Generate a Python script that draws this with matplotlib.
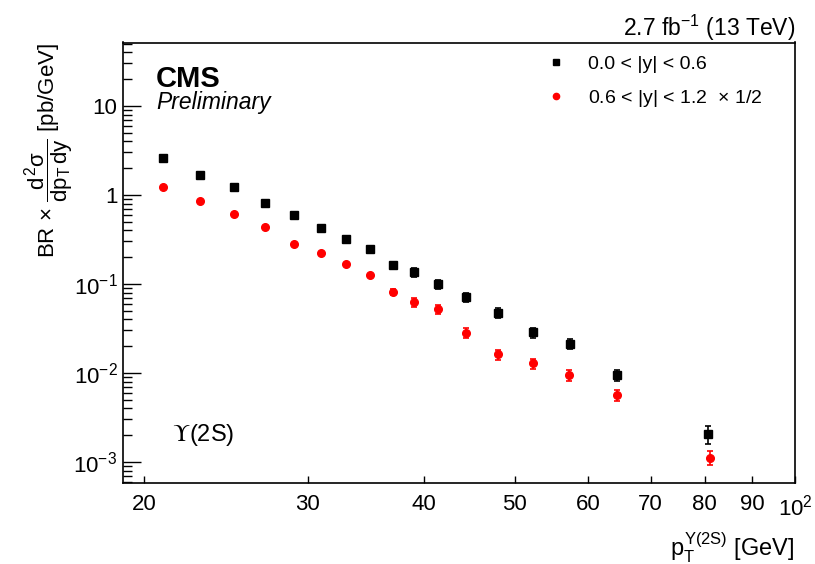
import numpy as np
import matplotlib
matplotlib.use("Agg")
import matplotlib.pyplot as plt
from matplotlib.lines import Line2D
from matplotlib.ticker import FixedLocator, LogLocator, NullFormatter

plt.rcParams['font.family'] = ['Liberation Sans', 'DejaVu Sans']
plt.rcParams['mathtext.fontset'] = 'custom'
plt.rcParams['mathtext.rm'] = 'Liberation Sans'
plt.rcParams['mathtext.it'] = 'Liberation Sans'
plt.rcParams['mathtext.bf'] = 'Liberation Sans:bold'

# Y(2S) cross section vs pT, two rapidity bins (forward bin already scaled by 1/2)
pt_mid = [21, 23, 25, 27, 29, 31, 33, 35, 37, 39, 41.4, 44.4, 48.0, 52.4, 57.4, 64.4, 80.7]
xs_mid = [2.62, 1.665, 1.23, 0.807, 0.591, 0.429, 0.323, 0.249, 0.162, 0.136,
          0.0995, 0.0707, 0.047, 0.0286, 0.0212, 0.0095, 0.00206]
err_mid = [0.08, 0.05, 0.04, 0.025, 0.02, 0.015, 0.012, 0.01, 0.015, 0.015,
           0.011, 0.0085, 0.006, 0.0037, 0.0028, 0.0014, 0.00045]

pt_fwd = [21, 23, 25, 27, 29, 31, 33, 35, 37, 39, 41.4, 44.4, 48.0, 52.4, 57.2, 64.4, 81.0]
xs_fwd = [1.23, 0.863, 0.607, 0.434, 0.284, 0.223, 0.169, 0.125, 0.0813, 0.0625,
          0.0519, 0.0281, 0.0162, 0.0128, 0.0095, 0.0056, 0.00112]
err_fwd = [0.03, 0.02, 0.015, 0.012, 0.008, 0.006, 0.005, 0.004, 0.0055, 0.0072,
           0.006, 0.0037, 0.0021, 0.0017, 0.0014, 0.0008, 0.0002]

x_ticks = [20, 30, 40, 50, 60, 70, 80, 90, 100]
x_ticklabels = ["20", "30", "40", "50", "60", "70", "80", "90", "$10^{2}$"]
y_ticks = [1e-3, 1e-2, 1e-1, 1, 10]
y_ticklabels = ["$10^{-3}$", "$10^{-2}$", "$10^{-1}$", "1", "10"]

W, H = 815, 564
fig = plt.figure(figsize=(W / 100, H / 100), dpi=100)
ax = fig.add_axes([123 / W, 1 - 483 / H, (795 - 123) / W, (483 - 42.5) / H])

ax.errorbar(pt_mid, xs_mid, yerr=err_mid, fmt='s', color='black', ms=5.5,
            elinewidth=1.2, capsize=2.2, capthick=1.2)
ax.errorbar(pt_fwd, xs_fwd, yerr=err_fwd, fmt='o', color='red', ms=5.5,
            elinewidth=1.2, capsize=2.2, capthick=1.2)

ax.set_xscale('log')
ax.set_yscale('log')
ax.set_xlim(19.0, 100)
ax.set_ylim(5.8e-4, 51.6)

ax.xaxis.set_major_locator(FixedLocator(x_ticks))
ax.xaxis.set_minor_locator(FixedLocator([]))
ax.set_xticklabels(x_ticklabels)
ax.yaxis.set_major_locator(FixedLocator(y_ticks))
ax.yaxis.set_minor_locator(LogLocator(base=10, subs=np.arange(2, 10)))
ax.yaxis.set_minor_formatter(NullFormatter())
ax.set_yticklabels(y_ticklabels)

for s in ax.spines.values():
    s.set_linewidth(1.2)
ax.tick_params(axis='both', which='both', direction='in', top=False, right=False,
               labelsize=16, width=1.0)
ax.tick_params(axis='y', which='major', length=13, pad=4)
ax.tick_params(axis='y', which='minor', length=6.5)
ax.tick_params(axis='x', which='major', length=5, pad=8)

# axis titles
fig.text(794 / W, 1 - 556 / H, r"$p_{T}^{\Upsilon(2S)}$ [GeV]",
         ha='right', va='baseline', fontsize=17)
fig.text(49 / W, 1 - 43 / H,
         r"BR $\times$ $\dfrac{d^{2}\sigma}{dp_{T}\,dy}$ [pb/GeV]",
         rotation=90, ha='center', va='top', fontsize=16)

# CMS labels
fig.text(156 / W, 1 - 87 / H, "CMS", fontsize=21, fontweight='bold',
         ha='left', va='baseline')
fig.text(156 / W, 1 - 109 / H, "Preliminary", fontsize=16.5, style='italic',
         ha='left', va='baseline')
fig.text(795 / W, 1 - 36 / H, r"2.7 fb$^{-1}$ (13 TeV)", fontsize=16.5,
         ha='right', va='baseline')
fig.text(172 / W, 1 - 441 / H, r"$\Upsilon$(2S)", fontsize=17,
         math_fontfamily='stix', ha='left', va='baseline')

handles = [Line2D([], [], marker='s', color='black', ls='none', ms=4.5),
           Line2D([], [], marker='o', color='red', ls='none', ms=4.5)]
labels = ["0.0 < |y| < 0.6", r"0.6 < |y| < 1.2  $\times$ 1/2"]
fig.legend(handles, labels, loc='upper left',
           bbox_to_anchor=(546 / W, 1 - 55 / H), frameon=False, fontsize=14,
           borderpad=0, borderaxespad=0, handlelength=1.0, handletextpad=1.15,
           labelspacing=0.8)

fig.savefig("out.png", dpi=100)
